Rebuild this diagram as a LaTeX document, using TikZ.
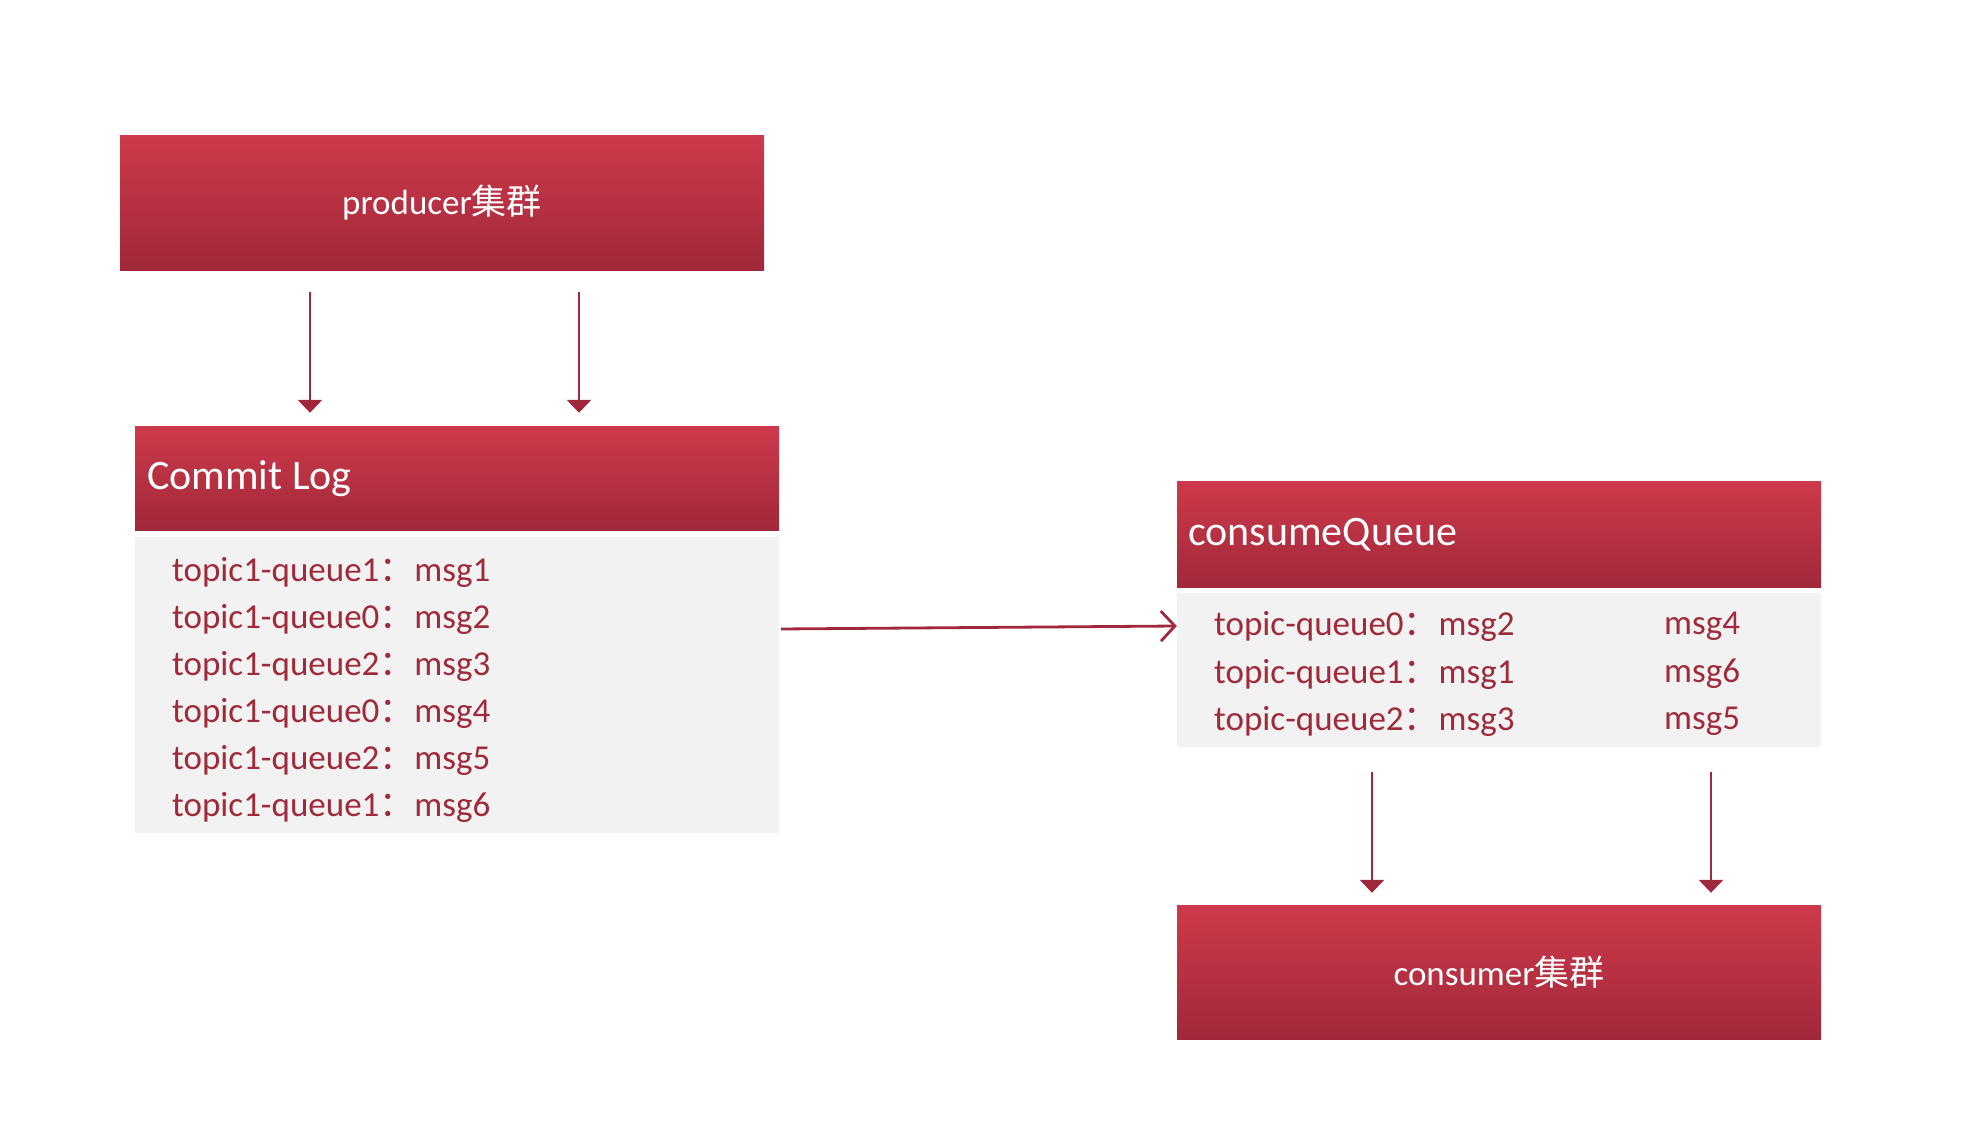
\documentclass[tikz,border=0pt]{standalone}
\usepackage{fontspec}
\setmainfont{Carlito}
\newfontfamily\cjk{Noto Sans CJK SC}
\usepackage{xcolor}
\usetikzlibrary{arrows.meta}

\definecolor{redtop}{HTML}{CE3A4B}
\definecolor{redbot}{HTML}{A0283A}
\definecolor{msgred}{HTML}{9E2A3A}
\definecolor{bodygray}{HTML}{F2F2F2}

\begin{document}
\begin{tikzpicture}[x=1pt, y=-1pt,
  redbox/.style={rectangle, inner sep=0pt, minimum width=644pt, top color=redtop, bottom color=redbot, text=white},
  graybox/.style={rectangle, inner sep=0pt, minimum width=644pt, fill=bodygray},
  line/.style={anchor=west, inner sep=0pt, text=msgred, font=\fontsize{35}{40}\selectfont},
  title/.style={anchor=west, inner sep=0pt, text=white, font=\fontsize{42}{48}\selectfont},
  down/.style={draw=redbot, line width=2.8pt, -{Triangle[width=24pt, length=13pt]}},
  flow/.style={draw=redbot, line width=2.8pt, -{Straight Barb[width=30pt, length=14pt, line width=2.8pt]}}]
\useasboundingbox (0,0) rectangle (1966,1124);

\node[redbox, minimum height=135pt, font=\fontsize{35}{40}\selectfont] (prod) at (442,202.5) {producer{\cjk 集群}};

\node[redbox, minimum height=104pt] (log) at (457,478) {};
\node[title] (logtitle) at (147,479) {Commit Log};
\node[graybox, minimum height=296pt] (logbody) at (457,685) {};
\node[line] (l1) at (172,572) {topic1-queue1{\cjk ：}msg1};
\node[line] (l2) at (172,619) {topic1-queue0{\cjk ：}msg2};
\node[line] (l3) at (172,666) {topic1-queue2{\cjk ：}msg3};
\node[line] (l4) at (172,713) {topic1-queue0{\cjk ：}msg4};
\node[line] (l5) at (172,760) {topic1-queue2{\cjk ：}msg5};
\node[line] (l6) at (172,807) {topic1-queue1{\cjk ：}msg6};

\node[redbox, minimum height=106pt] (cq) at (1499,534) {};
\node[title] (cqtitle) at (1188,535) {consumeQueue};
\node[graybox, minimum height=154pt] (cqbody) at (1499,670) {};
\node[line] (q0) at (1214,626) {topic-queue0{\cjk ：}msg2};
\node[line] (q1) at (1214,674) {topic-queue1{\cjk ：}msg1};
\node[line] (q2) at (1214,721) {topic-queue2{\cjk ：}msg3};
\node[line] (q0b) at (1664,626) {msg4};
\node[line] (q1b) at (1664,674) {msg6};
\node[line] (q2b) at (1664,721) {msg5};

\node[redbox, minimum height=134pt, font=\fontsize{35}{40}\selectfont] (cons) at (1499,972) {consumer{\cjk 集群}};

\draw[down, shorten <=22pt, shorten >=13pt] ([xshift=-132pt]prod.south) -- ([xshift=-132pt]prod.south |- log.north);
\draw[down, shorten <=22pt, shorten >=13pt] ([xshift=137pt]prod.south) -- ([xshift=137pt]prod.south |- log.north);

\draw[flow, shorten <=2pt] ([yshift=56pt]logbody.east) -- ([yshift=44pt]cqbody.west);

\draw[down, shorten <=25pt, shorten >=12pt] ([xshift=-127pt]cqbody.south) -- ([xshift=-127pt]cqbody.south |- cons.north);
\draw[down, shorten <=25pt, shorten >=12pt] ([xshift=212pt]cqbody.south) -- ([xshift=212pt]cqbody.south |- cons.north);
\end{tikzpicture}
\end{document}
